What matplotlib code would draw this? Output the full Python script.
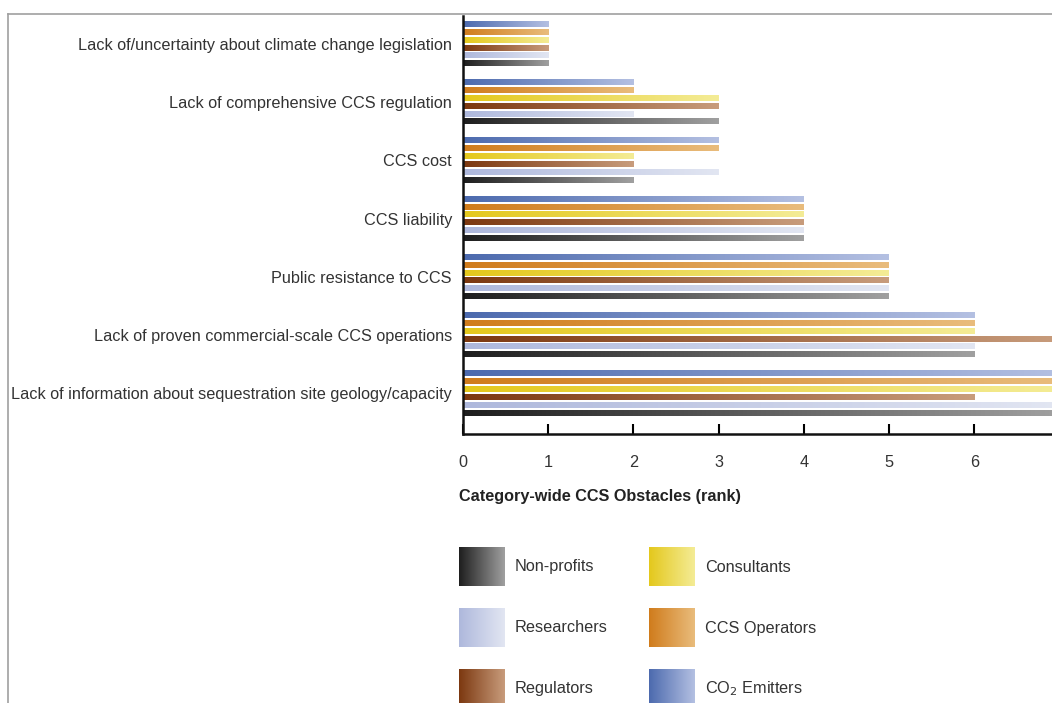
import numpy as np
import matplotlib
matplotlib.use("Agg")
import matplotlib.pyplot as plt
from matplotlib.colors import LinearSegmentedColormap

plt.rcParams['font.family'] = ['Liberation Sans', 'DejaVu Sans']

# Obstacles, listed top to bottom
obstacles = [
    "Lack of/uncertainty about climate change legislation",
    "Lack of comprehensive CCS regulation",
    "CCS cost",
    "CCS liability",
    "Public resistance to CCS",
    "Lack of proven commercial-scale CCS operations",
    "Lack of information about sequestration site geology/capacity",
]

# Stakeholder groups in the order their bars appear inside each obstacle
groups = ["CO$_2$ Emitters", "CCS Operators", "Consultants",
          "Regulators", "Researchers", "Non-profits"]

# rank per obstacle for each group
co2_emitters = [1, 2, 3, 4, 5, 6, 7]
ccs_operators = [1, 2, 3, 4, 5, 6, 7]
consultants = [1, 3, 2, 4, 5, 6, 7]
regulators = [1, 3, 2, 4, 5, 7, 6]
researchers = [1, 2, 3, 4, 5, 6, 7]
non_profits = [1, 3, 2, 4, 5, 6, 7]
ranks = [co2_emitters, ccs_operators, consultants, regulators, researchers, non_profits]

# (dark end, light end) of each gradient
shades = {
    "CO$_2$ Emitters": ("#4c6aae", "#b4c0e2"),
    "CCS Operators": ("#d07c1c", "#e9bc7c"),
    "Consultants": ("#e4c81c", "#f4ec96"),
    "Regulators": ("#7c3810", "#c89c7c"),
    "Researchers": ("#aeb8dc", "#e2e6f2"),
    "Non-profits": ("#1e1e1e", "#a0a0a0"),
}

FS = 11.7
W, H = 1052, 703
fig = plt.figure(figsize=(W / 100, H / 100), dpi=100)
fig.patch.set_facecolor("white")

x0_px, top_px, bot_px = 463, 16, 434
ax = fig.add_axes([x0_px / W, 1 - bot_px / H, 1 - x0_px / W, (bot_px - top_px) / H])

pitch = 0.1345
bar_h = 0.092
ramp = np.linspace(0, 1, 256).reshape(1, -1)

for j, (name, vals) in enumerate(zip(groups, ranks)):
    cmap = LinearSegmentedColormap.from_list(name, shades[name])
    ypos = np.arange(len(obstacles)) + (j - 2.5) * pitch
    bars = ax.barh(ypos, vals, height=bar_h, color="none", edgecolor="none")
    for b in bars:
        x, y, w, h = b.get_x(), b.get_y(), b.get_width(), b.get_height()
        ax.imshow(ramp, cmap=cmap, aspect="auto", interpolation="bilinear",
                  extent=[x, x + w, y + h, y], zorder=2)

ax.set_xlim(0, (W - x0_px) / 85.2)
ax.set_ylim(6.70, -0.48)
ax.set_xticks(range(7))
ax.set_yticks(range(len(obstacles)))
ax.set_yticklabels(obstacles)
ax.tick_params(axis="y", length=0, pad=8, labelsize=FS, labelcolor="#333333")
ax.tick_params(axis="x", direction="in", length=7, width=1.5, pad=15,
               labelsize=FS, labelcolor="#333333")
for s in ["top", "right"]:
    ax.spines[s].set_visible(False)
for s in ["left", "bottom"]:
    ax.spines[s].set_linewidth(1.8)
    ax.spines[s].set_color("#111111")

# overlay in pixel units for the axis title, legend and frame
ov = fig.add_axes([0, 0, 1, 1], zorder=-1)
ov.set_xlim(0, W)
ov.set_ylim(H, 0)
ov.axis("off")
ov.plot([8, W], [14, 14], color="#a0a0a0", lw=1.2)
ov.plot([8, 8], [14, H], color="#a0a0a0", lw=1.2)

fig.text(459 / W, 1 - 497 / H, "Category-wide CCS Obstacles (rank)",
         fontsize=FS, fontweight="bold", color="#222222", va="center")

legend_order = ["Non-profits", "Researchers", "Regulators",
                "Consultants", "CCS Operators", "CO$_2$ Emitters"]
for k, name in enumerate(legend_order):
    col, row = divmod(k, 3)
    lx = 459 + col * 190
    ly = 547 + row * 61
    cmap = LinearSegmentedColormap.from_list(name + "_leg", shades[name])
    ov.imshow(ramp, cmap=cmap, aspect="auto", interpolation="bilinear",
              extent=[lx, lx + 46, ly + 39, ly])
    ov.text(lx + 56, ly + 20, name, fontsize=FS, color="#333333", va="center")
ov.set_xlim(0, W)
ov.set_ylim(H, 0)

fig.savefig("out.png", dpi=100)
